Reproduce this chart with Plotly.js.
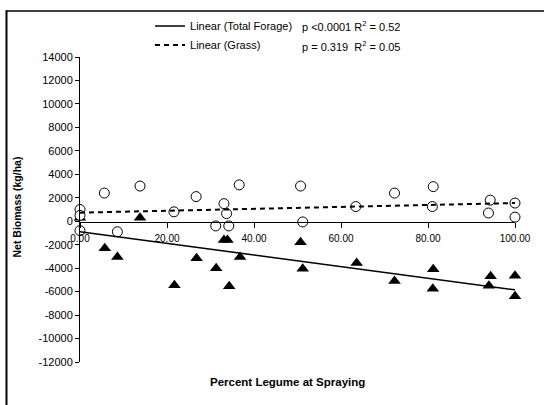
<!DOCTYPE html>
<html>
<head>
<meta charset="utf-8">
<script src="https://cdn.plot.ly/plotly-3.0.1.min.js"></script>
<style>html,body{margin:0;padding:0;background:#fff;}#chart{width:544px;height:405px;}</style>
</head>
<body>
<div id="chart"></div>
<script>
// Grass (open circles)
var grassX = [0, 0, 0, 5.6, 8.6, 13.8, 21.6, 26.7, 31.2, 33.1, 33.7, 34.2, 36.6, 50.7, 51.2, 63.4, 72.3, 81.2, 81.0, 94.3, 93.9, 100, 100];
var grassY = [1000, 500, -800, 2400, -900, 3000, 800, 2100, -400, 1500, 650, -400, 3100, 3000, -60, 1250, 2400, 2950, 1250, 1800, 700, 1550, 350];
// Total forage (filled triangles)
var forageX = [0, 5.7, 8.6, 13.8, 21.7, 26.8, 31.3, 33.1, 33.9, 34.3, 36.8, 50.7, 51.2, 63.6, 72.3, 81.2, 81.1, 94.4, 94.0, 100, 100];
var forageY = [300, -2300, -3050, 300, -5450, -3150, -4000, -1600, -1600, -5550, -3050, -1800, -4050, -3550, -5100, -4100, -5750, -4700, -5500, -4650, -6400];
// Linear trend end points
var trendX = [0, 100];
var forageTrend = [-900, -5850];
var grassTrend = [730, 1550];
// Tick labels
var xTicks = [0, 20, 40, 60, 80, 100];
var xTickText = ["0.00", "20.00", "40.00", "60.00", "80.00", "100.00"];
var yTicks = [14000, 12000, 10000, 8000, 6000, 4000, 2000, 0, -2000, -4000, -6000, -8000, -10000, -12000];
var yTickText = ["14000", "12000", "10000", "8000", "6000", "4000", "2000", "0", "-2000", "-4000", "-6000", "-8000", "-10000", "-12000"];

var FONT = "Liberation Sans, Arial, sans-serif";

var traces = [
  {x: forageX, y: forageY, type: 'scatter', mode: 'markers', showlegend: false, hoverinfo: 'skip', cliponaxis: false,
   marker: {symbol: 'triangle-up', size: 11, color: '#000', line: {width: 0}}},
  {x: grassX, y: grassY, type: 'scatter', mode: 'markers', showlegend: false, hoverinfo: 'skip', cliponaxis: false,
   marker: {symbol: 'circle', size: 10, color: '#fff', line: {width: 1, color: '#000'}}},
  {x: trendX, y: forageTrend, type: 'scatter', mode: 'lines', name: 'Linear (Total Forage)',
   line: {color: '#000', width: 1.5}},
  {x: trendX, y: grassTrend, type: 'scatter', mode: 'lines', name: 'Linear (Grass)',
   line: {color: '#000', width: 2, dash: '5px,4px'}}
];

var layout = {
  width: 544, height: 405,
  margin: {l: 80, r: 29, t: 54, b: 43},
  paper_bgcolor: '#fff', plot_bgcolor: '#fff',
  font: {family: FONT, size: 11, color: '#000'},
  xaxis: {range: [0, 100], anchor: 'free', position: 0.458,
    tickvals: xTicks, ticktext: xTickText,
    showline: true, linecolor: '#000', linewidth: 1,
    ticks: 'outside', ticklen: 5, tickcolor: '#000', tickwidth: 1, ticklabelstandoff: 2,
    showgrid: false, zeroline: false, tickfont: {family: FONT, size: 10, color: '#000'}},
  yaxis: {range: [-12000, 14000],
    tickvals: yTicks, ticktext: yTickText,
    showline: true, linecolor: '#000', linewidth: 1,
    ticks: 'outside', ticklen: 4, tickcolor: '#000', tickwidth: 1,
    showgrid: false, zeroline: false, tickfont: {family: FONT, size: 11, color: '#000'}},
  showlegend: true,
  legend: {x: 0.161, y: 1.1494, xanchor: 'left', yanchor: 'top', bgcolor: 'rgba(0,0,0,0)',
    borderwidth: 0, font: {family: FONT, size: 11, color: '#000'}},
  annotations: [
    {text: 'p <0.0001 R<sup>2</sup> = 0.52', xref: 'paper', yref: 'paper', x: 0.5057, y: 1.1006,
     xanchor: 'left', yanchor: 'middle', showarrow: false, font: {family: FONT, size: 11, color: '#000'}},
    {text: 'p = 0.319  R<sup>2</sup> = 0.05', xref: 'paper', yref: 'paper', x: 0.5057, y: 1.0357,
     xanchor: 'left', yanchor: 'middle', showarrow: false, font: {family: FONT, size: 11, color: '#000'}},
    {text: '<b>Percent Legume at Spraying</b>', xref: 'paper', yref: 'paper', x: 0.478, y: -0.065,
     xanchor: 'center', yanchor: 'middle', showarrow: false, font: {family: FONT, size: 11.5, color: '#000'}},
    {text: '<b>Net Biomass (kg/ha)</b>', xref: 'paper', yref: 'paper', x: -0.1448, y: 0.5065, textangle: -90,
     xanchor: 'center', yanchor: 'middle', showarrow: false, font: {family: FONT, size: 10.5, color: '#000'}}
  ],
  shapes: [
    {type: 'line', xref: 'paper', yref: 'paper', x0: -0.169, x1: 1.07, y0: 1.151, y1: 1.151,
     line: {color: '#000', width: 1.5}},
    {type: 'line', xref: 'paper', yref: 'paper', x0: -0.169, x1: -0.169, y0: 1.153, y1: -0.15,
     line: {color: '#000', width: 2}}
  ]
};

Plotly.newPlot('chart', traces, layout, {displayModeBar: false, staticPlot: true});
</script>
</body>
</html>
